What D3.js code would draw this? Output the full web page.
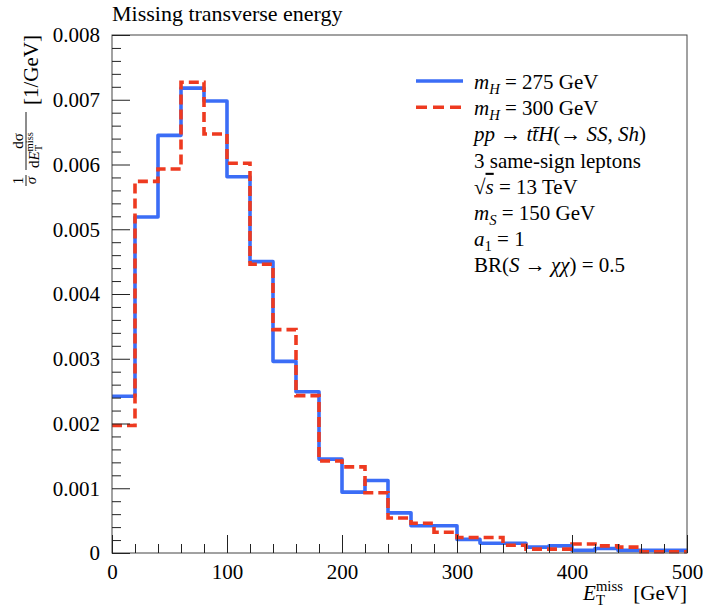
<!DOCTYPE html>
<html>
<head>
<meta charset="utf-8">
<script src="https://cdn.jsdelivr.net/npm/d3@7"></script>
<style>
  body { margin: 0; background: #fff; }
</style>
</head>
<body>
<svg id="chart" width="703" height="610" style="font-family: 'Liberation Serif', 'DejaVu Serif', serif"></svg>
<script>
// Histogram bin edges (GeV) and normalised distributions per bin (1/GeV)
const binEdges = [0, 20, 40, 60, 80, 100, 120, 140, 160, 180, 200, 220, 240, 260,
                  280, 300, 320, 340, 360, 380, 400, 420, 440, 460, 480, 500];
const mH275 = [0.00242, 0.00519, 0.00645, 0.00718, 0.00698, 0.00581, 0.00450, 0.00296,
               0.00249, 0.00145, 0.00094, 0.00112, 0.00062, 0.00042, 0.00042, 0.00021,
               0.00015, 0.00015, 0.00009, 0.00011, 0.00004, 0.00007, 0.00004, 0.00004, 0.00004];
const mH300 = [0.00197, 0.00574, 0.00593, 0.00727, 0.00647, 0.00602, 0.00446, 0.00345,
               0.00243, 0.00142, 0.00133, 0.00093, 0.00054, 0.00046, 0.00032, 0.00024,
               0.00024, 0.00012, 0.00006, 0.00006, 0.00014, 0.00011, 0.00009, 0.00002, 0.00002];
const xTicks = [0, 100, 200, 300, 400, 500];
const xTickLabels = ["0", "100", "200", "300", "400", "500"];
const yTicks = [0, 0.001, 0.002, 0.003, 0.004, 0.005, 0.006, 0.007, 0.008];
const yTickLabels = ["0", "0.001", "0.002", "0.003", "0.004", "0.005", "0.006", "0.007", "0.008"];

const FS = 21;
const FONT = "'Liberation Serif', 'DejaVu Serif', serif";
const blue = "#3b6df6";
const red = "#ee3a20";

const svg = d3.select("#chart");
const m = { left: 112, right: 687, top: 35, bottom: 553 };

const x = d3.scaleLinear().domain([0, 500]).range([m.left, m.right]);
const y = d3.scaleLinear().domain([0, 0.008]).range([m.bottom, m.top]);

function txt(parent) {
  return parent.append("text").style("font-family", FONT).attr("fill", "#000");
}

// Rich text helper: parts with italic / subscript / superscript / overline
function rich(sel, parts, size) {
  let off = 0;
  parts.forEach(p => {
    const target = p.sub ? 0.22 * size : p.sup ? -0.42 * size : 0;
    const ts = sel.append("tspan").text(p.t).attr("dy", target - off);
    off = target;
    if (p.sub || p.sup) ts.attr("font-size", size * 0.7);
    if (p.it) ts.attr("font-style", "italic");
    if (p.dx) ts.attr("dx", p.dx);
    if (p.over) ts.attr("text-decoration", "overline");
  });
  return sel;
}

// Histograms as step lines
const stepLine = d3.line()
  .x(d => x(d[0]))
  .y(d => y(d[1]))
  .curve(d3.curveStepAfter);

function stepPoints(vals) {
  const pts = vals.map((v, i) => [binEdges[i], v]);
  pts.push([binEdges[binEdges.length - 1], vals[vals.length - 1]]);
  return pts;
}

svg.append("path")
  .attr("d", stepLine(stepPoints(mH275)))
  .attr("fill", "none").attr("stroke", blue).attr("stroke-width", 3.6)
  .attr("stroke-linejoin", "round");

svg.append("path")
  .attr("d", stepLine(stepPoints(mH300)))
  .attr("fill", "none").attr("stroke", red).attr("stroke-width", 3.6)
  .attr("stroke-dasharray", "10,5");

// Frame
svg.append("rect")
  .attr("x", m.left).attr("y", m.top)
  .attr("width", m.right - m.left).attr("height", m.bottom - m.top)
  .attr("fill", "none").attr("stroke", "#444").attr("stroke-width", 1);

// Bottom axis: major and minor ticks pointing inward
const xMinor = d3.range(0, 501, 20).filter(v => v % 100 !== 0);
const gx = svg.append("g").attr("transform", `translate(0,${m.bottom})`);
gx.call(d3.axisBottom(x).tickValues(xTicks).tickFormat((d, i) => xTickLabels[i])
  .tickSizeInner(-18).tickSizeOuter(0).tickPadding(26));
gx.append("g").call(d3.axisBottom(x).tickValues(xMinor).tickFormat("")
  .tickSizeInner(-9).tickSizeOuter(0));
gx.attr("font-family", null);
gx.selectAll(".domain").remove();
gx.selectAll("line").attr("stroke", "#222");
gx.selectAll("text").style("font-family", FONT).attr("font-size", FS).attr("dy", "0");

// Left axis
const yMinor = d3.range(0, 41).map(i => i * 0.0002).filter((v, i) => i % 5 !== 0);
const gy = svg.append("g").attr("transform", `translate(${m.left},0)`);
gy.call(d3.axisLeft(y).tickValues(yTicks).tickFormat((d, i) => yTickLabels[i])
  .tickSizeInner(-18).tickSizeOuter(0).tickPadding(12));
gy.append("g").call(d3.axisLeft(y).tickValues(yMinor).tickFormat("")
  .tickSizeInner(-9).tickSizeOuter(0));
gy.attr("font-family", null);
gy.selectAll(".domain").remove();
gy.selectAll("line").attr("stroke", "#222");
gy.selectAll("text").style("font-family", FONT).attr("font-size", FS).attr("dy", "0.33em");

// Title
txt(svg).attr("x", 112).attr("y", 21).attr("font-size", 22)
  .text("Missing transverse energy");

// X axis title
rich(txt(svg).attr("x", m.right).attr("y", 600)
  .attr("text-anchor", "end").attr("font-size", FS), [
  { t: "E", it: true },
  { t: "T", sub: true },
  { t: "miss", sup: true, dx: -9 },
  { t: "\u2002[GeV]" }
], FS);

// Y axis title, rotated (local x runs upward on screen, local y runs rightward)
const yl = svg.append("g").attr("transform", "rotate(-90)");
txt(yl).attr("x", -35).attr("y", 38).attr("text-anchor", "end")
  .attr("font-size", FS).text("[1/GeV]");
const fs2 = 15;
const barY = 26;
// dσ / dE_T^miss
yl.append("line").attr("x1", -170).attr("x2", -112).attr("y1", barY).attr("y2", barY)
  .attr("stroke", "#000").attr("stroke-width", 0.9);
txt(yl).attr("x", -141).attr("y", barY - 3.5).attr("text-anchor", "middle")
  .attr("font-size", fs2).text("d\u03C3");
rich(txt(yl).attr("x", -168).attr("y", barY + 13).attr("font-size", fs2), [
  { t: "d" }, { t: "E", it: true }, { t: "T", sub: true }, { t: "miss", sup: true, dx: -6.5 }
], fs2);
// 1 / σ
yl.append("line").attr("x1", -186).attr("x2", -175).attr("y1", barY).attr("y2", barY)
  .attr("stroke", "#000").attr("stroke-width", 0.9);
txt(yl).attr("x", -180.5).attr("y", barY - 3.5).attr("text-anchor", "middle")
  .attr("font-size", fs2).text("1");
txt(yl).attr("x", -180.5).attr("y", barY + 10).attr("text-anchor", "middle")
  .attr("font-size", fs2).attr("font-style", "italic").text("\u03C3");

// Legend
const lgX = 416, lgX2 = 463, txX = 474, base0 = 89, step = 26.2;
svg.append("line").attr("x1", lgX).attr("x2", lgX2).attr("y1", base0 - 8).attr("y2", base0 - 8)
  .attr("stroke", blue).attr("stroke-width", 3.6);
svg.append("line").attr("x1", lgX).attr("x2", lgX2).attr("y1", base0 + step - 8).attr("y2", base0 + step - 8)
  .attr("stroke", red).attr("stroke-width", 3.6).attr("stroke-dasharray", "11,6");

const legendLines = [
  [{ t: "m", it: true }, { t: "H", it: true, sub: true }, { t: " = 275 GeV" }],
  [{ t: "m", it: true }, { t: "H", it: true, sub: true }, { t: " = 300 GeV" }],
  [{ t: "pp", it: true }, { t: " \u2192 " }, { t: "t", it: true }, { t: "t\u0304", it: true },
   { t: "H", it: true }, { t: "(\u2192 " }, { t: "SS", it: true }, { t: ", " }, { t: "Sh", it: true }, { t: ")" }],
  [{ t: "3 same-sign leptons" }],
  [{ t: "\u221A" }, { t: "s", it: true, over: true }, { t: " = 13 TeV" }],
  [{ t: "m", it: true }, { t: "S", it: true, sub: true }, { t: " = 150 GeV" }],
  [{ t: "a", it: true }, { t: "1", sub: true }, { t: " = 1" }],
  [{ t: "BR(" }, { t: "S", it: true }, { t: " \u2192 " }, { t: "\u03C7\u03C7", it: true }, { t: ") = 0.5" }]
];
legendLines.forEach((parts, i) => {
  rich(txt(svg).attr("x", txX).attr("y", base0 + i * step).attr("font-size", FS), parts, FS);
});
</script>
</body>
</html>
